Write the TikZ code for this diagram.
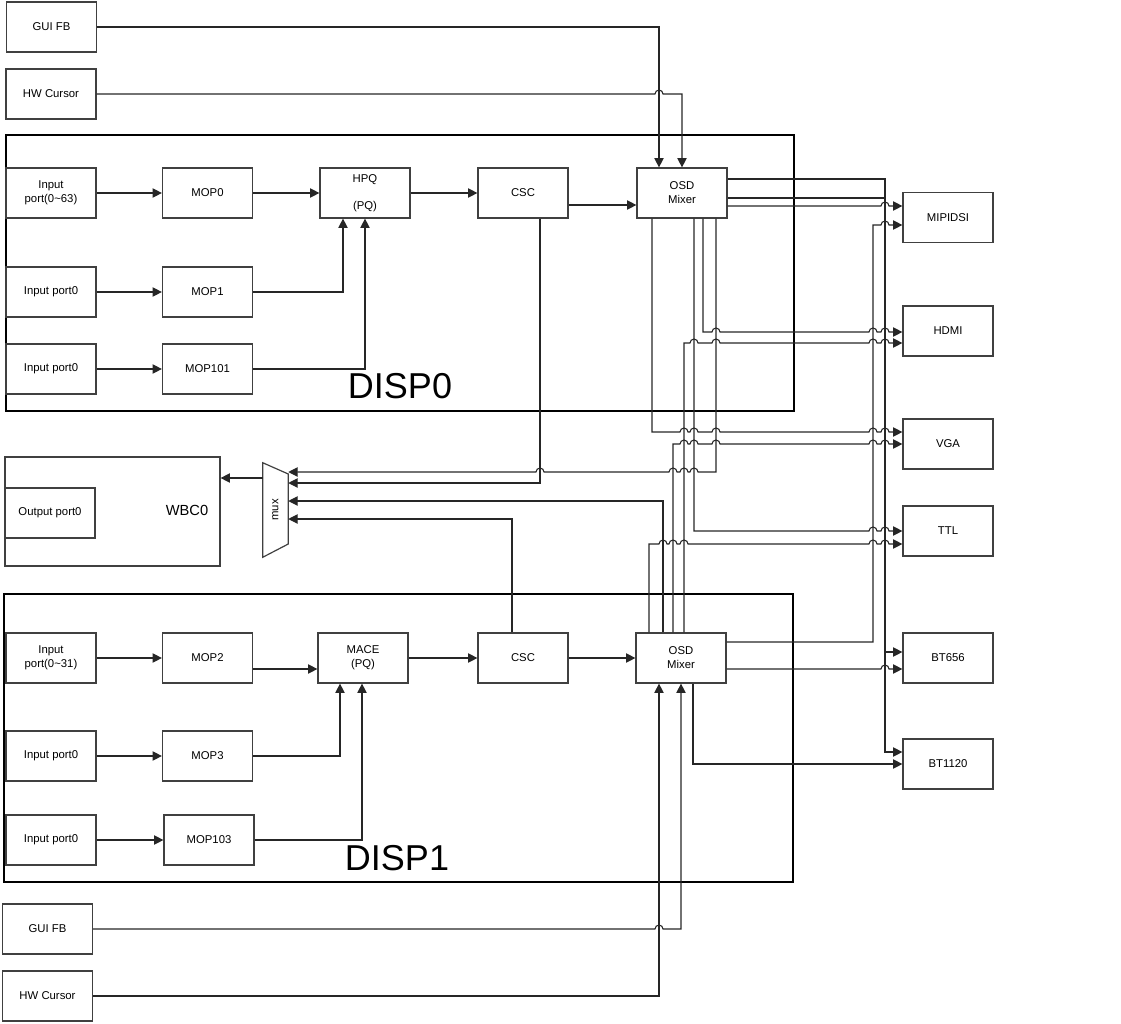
\documentclass[tikz,border=0pt]{standalone}
\usepackage{fontspec}
\setmainfont{Liberation Sans}
\usetikzlibrary{arrows.meta}

\tikzset{
  blk/.style={draw=black!75, line width=0.9pt, minimum width=67.5pt, minimum height=37.5pt,
    inner sep=0pt, align=center, font=\fontsize{8.5}{10.5}\selectfont},
  frm/.style={draw=black, line width=2.2pt, inner sep=0pt},
  conn/.style={draw=black!85, line width=0.8pt},
  arr/.style={conn, -{Triangle[length=7pt,width=7pt]}},
}
\newcommand\hopR[2]{-- (#1-4,#2) arc[start angle=180,end angle=0,radius=3pt]}
\newcommand\hopL[2]{-- (#1+4,#2) arc[start angle=0,end angle=180,radius=3pt]}

\begin{document}
\begin{tikzpicture}[x=0.75pt,y=-0.75pt]
  \useasboundingbox (0,0) rectangle (1121,1024);

  \node[frm, minimum width=591pt, minimum height=207pt] (disp0) at (400,273) {};
  \node[frm, minimum width=591.75pt, minimum height=216pt] (disp1) at (398.5,738) {};
  \node[font=\fontsize{27}{30}\selectfont] (disp0lbl) at (400,386) {DISP0};
  \node[font=\fontsize{27}{30}\selectfont] (disp1lbl) at (397,858) {DISP1};

  \node[blk] (guiA) at (51.5,27) {GUI FB};
  \node[blk] (curA) at (51,94) {HW Cursor};

  \node[blk] (inA) at (51,193) {Input\\port(0\textasciitilde63)};
  \node[blk] (mop0) at (207.5,193) {MOP0};
  \node[blk] (hpq) at (365,193) {HPQ\\[10pt](PQ)};
  \node[blk] (cscA) at (523,193) {CSC};
  \node[blk] (mixA) at (682,193) {OSD\\Mixer};
  \node[blk] (in1) at (51,292) {Input port0};
  \node[blk] (mop1) at (207.5,292) {MOP1};
  \node[blk] (in2) at (51,369) {Input port0};
  \node[blk] (mop101) at (207.5,369) {MOP101};

  \node[blk, minimum width=161.25pt, minimum height=81.75pt] (wbc) at (112.5,511.5) {};
  \node[font=\fontsize{11}{13}\selectfont] (wbclbl) at (187,510) {WBC0};
  \node[blk] (outp) at (50,513) {Output port0};
  \node[inner sep=0pt, minimum width=18.75pt, minimum height=70.5pt] (mux) at (275.5,510) {};
  \draw[draw=black!75, line width=0.9pt] (mux.north west) -- (mux.east |- 0,474)
    -- (mux.east |- 0,544) -- (mux.south west) -- cycle;
  \node[rotate=90, font=\fontsize{8.5}{10}\selectfont] (muxlbl) at (mux.center) {mux};

  \node[blk] (inB) at (51,658) {Input\\port(0\textasciitilde31)};
  \node[blk] (mop2) at (207.5,658) {MOP2};
  \node[blk] (mace) at (363,658) {MACE\\(PQ)};
  \node[blk] (cscB) at (523,658) {CSC};
  \node[blk] (mixB) at (681,658) {OSD\\Mixer};
  \node[blk] (in3) at (51,756) {Input port0};
  \node[blk] (mop3) at (207.5,756) {MOP3};
  \node[blk] (in4) at (51,840) {Input port0};
  \node[blk] (mop103) at (209,840) {MOP103};

  \node[blk] (guiB) at (47.5,929) {GUI FB};
  \node[blk] (curB) at (47.5,996) {HW Cursor};

  \node[blk] (mipi) at (948,217.5) {MIPIDSI};
  \node[blk] (hdmi) at (948,331) {HDMI};
  \node[blk] (vga) at (948,444) {VGA};
  \node[blk] (ttl) at (948,531) {TTL};
  \node[blk] (bt656) at (948,658) {BT656};
  \node[blk] (bt1120) at (948,764) {BT1120};

  \draw[arr] (guiA.east) -| (mixA.north -| 659,0);
  \draw[arr] (curA.east) \hopR{659}{94} -| (mixA.north -| 682,0);

  \draw[arr] (inA.east) -- (mop0.west);
  \draw[arr] (mop0.east) -- (hpq.west);
  \draw[arr] (hpq.east) -- (cscA.west);
  \draw[arr] (cscA.east |- 0,205) -- (mixA.west |- 0,205);
  \draw[arr] (in1.east) -- (mop1.west);
  \draw[arr] (in2.east) -- (mop101.west);
  \draw[arr] (mop1.east) -| (hpq.south -| 343,0);
  \draw[arr] (mop101.east) -| (hpq.south);

  \draw[arr] (mixA.east |- 0,179) -- (885,179) |- (bt1120.west |- 0,752);
  \draw[arr] (mixA.east |- 0,198) -- (885,198) |- (bt656.west |- 0,652);
  \draw[arr] (mixA.east |- 0,206) \hopR{885}{206} -- (mipi.west |- 0,206);

  \draw[arr] (mixA.south -| 652,0) -- (652,432) \hopR{684}{432} \hopR{694}{432} \hopR{716}{432}
    \hopR{873}{432} \hopR{885}{432} -- (vga.west |- 0,432);
  \draw[arr] (mixA.south -| 694,0) -- (694,531) \hopR{873}{531} \hopR{885}{531} -- (ttl.west |- 0,531);
  \draw[arr] (mixA.south -| 703,0) -- (703,332) \hopR{716}{332} \hopR{873}{332} \hopR{885}{332}
    -- (hdmi.west |- 0,332);
  \draw[arr] (mixA.south -| 716,0) -- (716,472) \hopL{694}{472} \hopL{684}{472} \hopL{673}{472}
    \hopL{540}{472} -- (mux.east |- 0,472);
  \draw[arr] (cscA.south -| 540,0) -- (540,483) -- (mux.east |- 0,483);

  \draw[arr] (mixB.north -| 649,0) -- (649,544) \hopR{663}{544} \hopR{673}{544} \hopR{684}{544}
    \hopR{873}{544} \hopR{885}{544} -- (ttl.west |- 0,544);
  \draw[arr] (mixB.north -| 663,0) -- (663,501) -- (mux.east |- 0,501);
  \draw[arr] (mixB.north -| 673,0) -- (673,444) \hopR{684}{444} \hopR{694}{444} \hopR{716}{444}
    \hopR{873}{444} \hopR{885}{444} -- (vga.west |- 0,444);
  \draw[arr] (mixB.north -| 684,0) -- (684,343) \hopR{694}{343} \hopR{716}{343} \hopR{873}{343}
    \hopR{885}{343} -- (hdmi.west |- 0,343);
  \draw[arr] (cscB.north -| 512,0) -- (512,519) -- (mux.east |- 0,519);
  \draw[arr] (mux.west |- 0,478) -- (wbc.east |- 0,478);

  \draw[arr] (mixB.east |- 0,642) -- (873,642) -- (873,225) \hopR{885}{225} -- (mipi.west |- 0,225);
  \draw[arr] (mixB.east |- 0,669) \hopR{885}{669} -- (bt656.west |- 0,669);
  \draw[arr] (mixB.south -| 693,0) |- (bt1120.west);

  \draw[arr] (inB.east) -- (mop2.west);
  \draw[arr] (mop2.east |- 0,669) -- (mace.west |- 0,669);
  \draw[arr] (mace.east) -- (cscB.west);
  \draw[arr] (cscB.east) -- (mixB.west);
  \draw[arr] (in3.east) -- (mop3.west);
  \draw[arr] (in4.east) -- (mop103.west);
  \draw[arr] (mop3.east) -| (mace.south -| 340,0);
  \draw[arr] (mop103.east) -| (mace.south -| 362,0);

  \draw[arr] (guiB.east) \hopR{659}{929} -| (mixB.south -| 681,0);
  \draw[arr] (curB.east) -| (mixB.south -| 659,0);
\end{tikzpicture}
\end{document}
